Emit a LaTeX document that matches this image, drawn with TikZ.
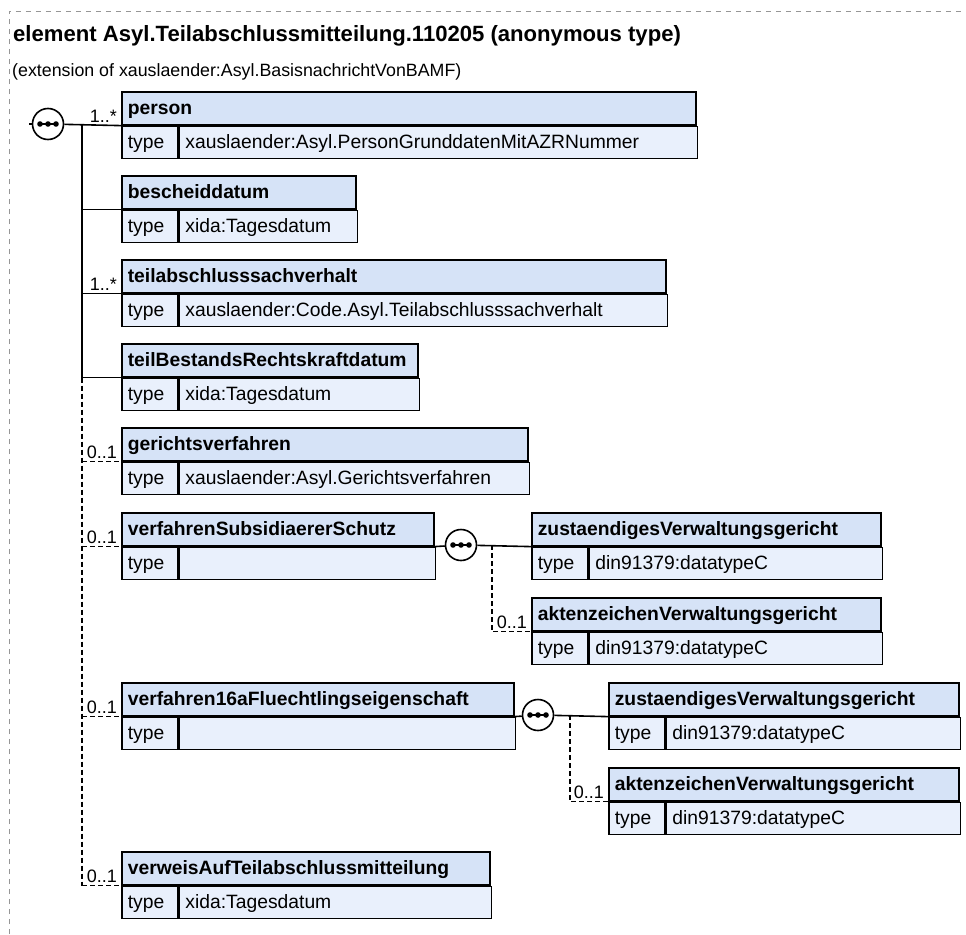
\documentclass[tikz,border=0pt]{standalone}
\usepackage{fontspec}
\setmainfont{Liberation Sans}
\usepackage{xcolor}
\usetikzlibrary{positioning,shapes.geometric}
\definecolor{hdrblue}{RGB}{214,227,247}
\definecolor{rowblue}{RGB}{233,240,252}
\definecolor{framegray}{RGB}{150,150,150}

\begin{document}
\begin{tikzpicture}[x=1pt, y=-1pt,
  hdr/.style={draw, fill=hdrblue, line width=1.6pt, anchor=north west, minimum height=33pt,
    inner xsep=6pt, inner ysep=0pt, text height=13.5pt, text depth=2pt, align=left,
    font=\fontsize{19.3}{21}\selectfont\bfseries},
  tcell/.style={draw, fill=rowblue, line width=1.6pt, anchor=north west, minimum height=32pt,
    inner xsep=6pt, inner ysep=0pt, text height=13.5pt, text depth=2pt, align=left,
    font=\fontsize{19.3}{21}\selectfont},
  seq/.style={circle, draw, fill=white, line width=1.6pt, minimum size=31pt, inner sep=0pt,
    path picture={
      \draw[black, line width=1.6pt] ([xshift=-9pt]path picture bounding box.center) -- ([xshift=9pt]path picture bounding box.center);
      \fill[black] ([xshift=-8pt]path picture bounding box.center) circle [radius=2.8pt];
      \fill[black] (path picture bounding box.center) circle [radius=2.8pt];
      \fill[black] ([xshift=8pt]path picture bounding box.center) circle [radius=2.8pt];}},
  conn/.style={line width=1.6pt},
  opt/.style={conn, dash pattern=on 5pt off 3pt},
  mult/.style={anchor=south east, inner sep=0pt, font=\fontsize{18}{20}\selectfont},
  frame/.style={draw=framegray, line width=0.8pt, dash pattern=on 5pt off 5pt}]
\useasboundingbox (0,0) rectangle (966,934);
\draw[frame] (9,934) -- (9,11) -- (966,11);

% heading
\node[anchor=base west, inner sep=0pt, font=\fontsize{22.1}{24}\selectfont\bfseries] (title) at (13,42)
  {element Asyl.Teilabschlussmitteilung.110205 (anonymous type)};
\node[anchor=base west, inner sep=0pt, font=\fontsize{17.8}{20}\selectfont] (ext) at (12,76)
  {(extension of xauslaender:Asyl.BasisnachrichtVonBAMF)};

% main sequence
\node[seq] (seqmain) at (48,124) {};
\coordinate (entry) at (29,124);
\coordinate (spine) at (82,124);

\node[hdr, text width=562pt] (person-h) at (121,91) {person};
\node[tcell, text width=44pt] (person-t) at (person-h.south west) {type};
\node[tcell, text width=506pt] (person-v) at (person-t.north east) {xauslaender:Asyl.PersonGrunddatenMitAZRNummer};

\node[hdr, text width=222pt] (besch-h) at (121,175) {bescheiddatum};
\node[tcell, text width=44pt] (besch-t) at (besch-h.south west) {type};
\node[tcell, text width=166pt] (besch-v) at (besch-t.north east) {xida:Tagesdatum};

\node[hdr, text width=532pt] (teila-h) at (121,259) {teilabschlusssachverhalt};
\node[tcell, text width=44pt] (teila-t) at (teila-h.south west) {type};
\node[tcell, text width=476pt] (teila-v) at (teila-t.north east) {xauslaender:Code.Asyl.Teilabschlusssachverhalt};

\node[hdr, text width=284pt] (teilb-h) at (121,343) {teilBestandsRechtskraftdatum};
\node[tcell, text width=44pt] (teilb-t) at (teilb-h.south west) {type};
\node[tcell, text width=228pt] (teilb-v) at (teilb-t.north east) {xida:Tagesdatum};

\node[hdr, text width=394pt] (gericht-h) at (121,427) {gerichtsverfahren};
\node[tcell, text width=44pt] (gericht-t) at (gericht-h.south west) {type};
\node[tcell, text width=338pt] (gericht-v) at (gericht-t.north east) {xauslaender:Asyl.Gerichtsverfahren};

\node[hdr, text width=300pt] (subs-h) at (121,512) {verfahrenSubsidiaererSchutz};
\node[tcell, text width=44pt] (subs-t) at (subs-h.south west) {type};
\node[tcell, text width=244pt] (subs-v) at (subs-t.north east) {};

\node[hdr, text width=380pt] (verf-h) at (121,682) {verfahren16aFluechtlingseigenschaft};
\node[tcell, text width=44pt] (verf-t) at (verf-h.south west) {type};
\node[tcell, text width=324pt] (verf-v) at (verf-t.north east) {};

\node[hdr, text width=356pt] (verw-h) at (121,851) {verweisAufTeilabschlussmitteilung};
\node[tcell, text width=44pt] (verw-t) at (verw-h.south west) {type};
\node[tcell, text width=300pt] (verw-v) at (verw-t.north east) {xida:Tagesdatum};

% sequence of verfahrenSubsidiaererSchutz
\node[seq] (seqsubs) at (461,545) {};
\coordinate (subsspine) at (492,545);
\node[hdr, text width=337pt] (zust1-h) at (531,512) {zustaendigesVerwaltungsgericht};
\node[tcell, text width=44pt] (zust1-t) at (zust1-h.south west) {type};
\node[tcell, text width=281pt] (zust1-v) at (zust1-t.north east) {din91379:datatypeC};
\node[hdr, text width=337pt] (akten1-h) at (531,597) {aktenzeichenVerwaltungsgericht};
\node[tcell, text width=44pt] (akten1-t) at (akten1-h.south west) {type};
\node[tcell, text width=281pt] (akten1-v) at (akten1-t.north east) {din91379:datatypeC};

% sequence of verfahren16aFluechtlingseigenschaft
\node[seq] (seqverf) at (538,715) {};
\coordinate (verfspine) at (570,715);
\node[hdr, text width=338pt] (zust2-h) at (608,682) {zustaendigesVerwaltungsgericht};
\node[tcell, text width=44pt] (zust2-t) at (zust2-h.south west) {type};
\node[tcell, text width=282pt] (zust2-v) at (zust2-t.north east) {din91379:datatypeC};
\node[hdr, text width=338pt] (akten2-h) at (608,767) {aktenzeichenVerwaltungsgericht};
\node[tcell, text width=44pt] (akten2-t) at (akten2-h.south west) {type};
\node[tcell, text width=282pt] (akten2-v) at (akten2-t.north east) {din91379:datatypeC};

% connectors
\draw[conn] (entry) -- (seqmain);
\draw[conn] (seqmain) -- (person-h.south west);
\draw[conn] (spine) -- (spine |- teilb-h.south west);
\draw[opt] (spine |- teilb-h.south west) -- (spine |- verw-h.south west);
\draw[conn] (spine |- besch-h.south west) -- (besch-h.south west);
\draw[conn] (spine |- teila-h.south west) -- (teila-h.south west);
\draw[conn] (spine |- teilb-h.south west) -- (teilb-h.south west);
\draw[opt] (spine |- gericht-h.south west) -- (gericht-h.south west);
\draw[opt] (spine |- subs-h.south west) -- (subs-h.south west);
\draw[opt] (spine |- verf-h.south west) -- (verf-h.south west);
\draw[opt] (spine |- verw-h.south west) -- (verw-h.south west);

\draw[conn] (subs-h.south east) -- (seqsubs);
\draw[conn] (seqsubs) -- (zust1-h.south west);
\draw[opt] (subsspine) |- (akten1-h.south west);

\draw[conn] (verf-h.south east) -- (seqverf);
\draw[conn] (seqverf) -- (zust2-h.south west);
\draw[opt] (verfspine) |- (akten2-h.south west);

% multiplicities
\node[mult] (m-person) at ([xshift=-4pt,yshift=3pt]person-h.south west) {1..*};
\node[mult] (m-teila) at ([xshift=-4pt,yshift=3pt]teila-h.south west) {1..*};
\node[mult] (m-gericht) at ([xshift=-4pt,yshift=3pt]gericht-h.south west) {0..1};
\node[mult] (m-subs) at ([xshift=-4pt,yshift=3pt]subs-h.south west) {0..1};
\node[mult] (m-verf) at ([xshift=-4pt,yshift=3pt]verf-h.south west) {0..1};
\node[mult] (m-verw) at ([xshift=-4pt,yshift=3pt]verw-h.south west) {0..1};
\node[mult] (m-akten1) at ([xshift=-4pt,yshift=3pt]akten1-h.south west) {0..1};
\node[mult] (m-akten2) at ([xshift=-4pt,yshift=3pt]akten2-h.south west) {0..1};
\end{tikzpicture}
\end{document}
